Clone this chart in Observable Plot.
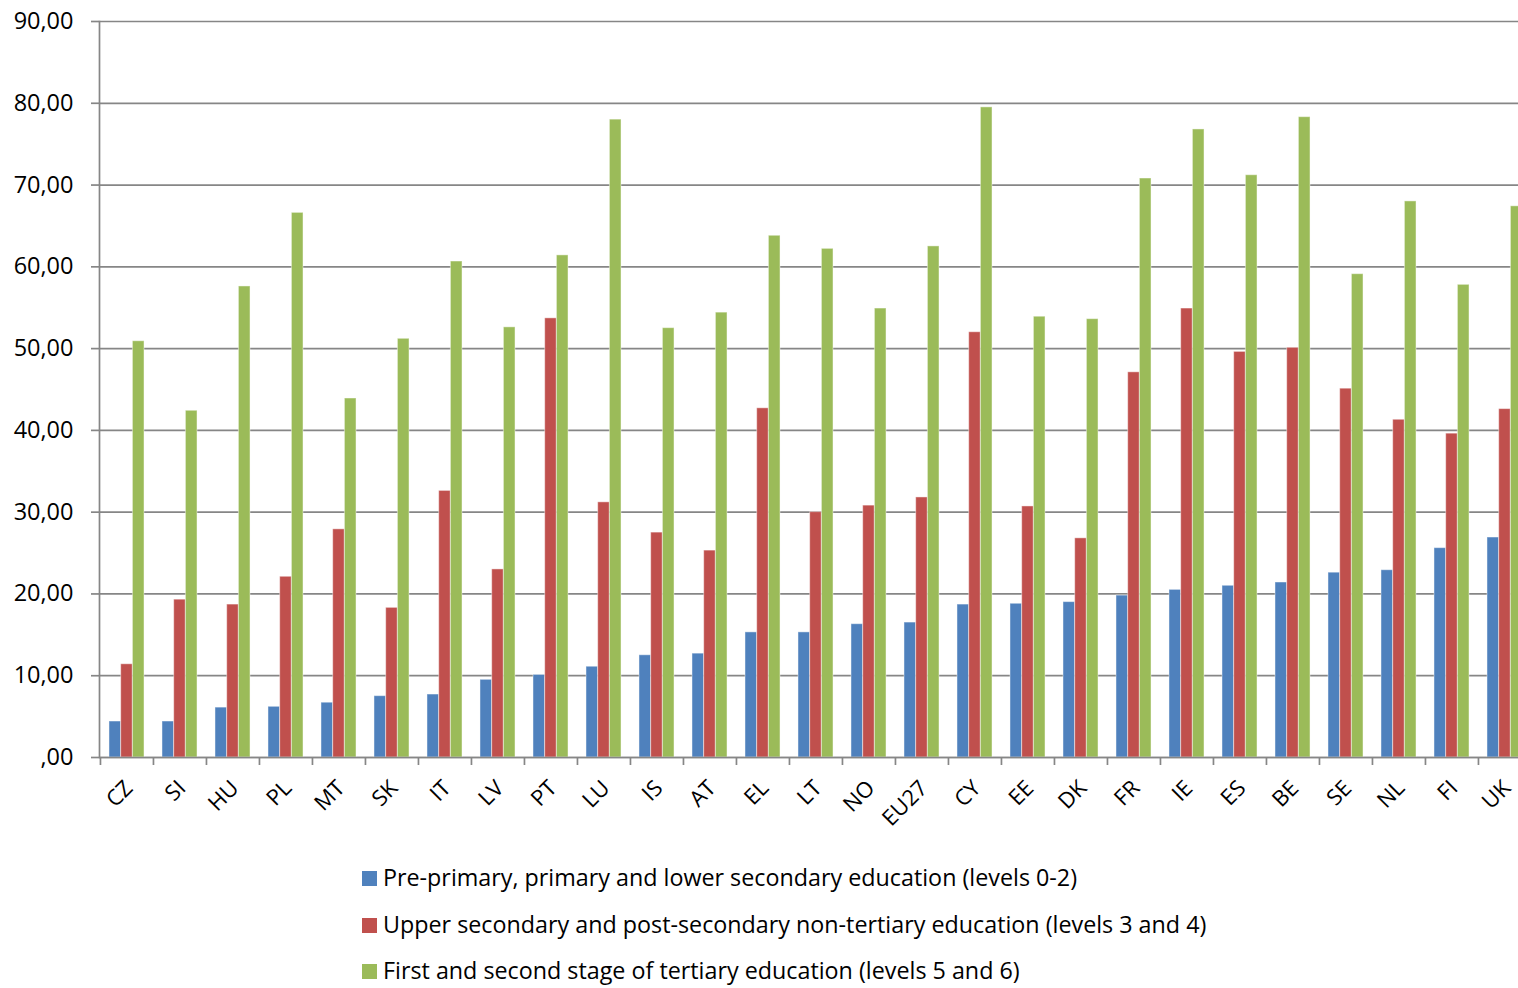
<!DOCTYPE html>
<html>
<head>
<meta charset="utf-8">
<script src="https://cdn.jsdelivr.net/npm/d3@7"></script>
<script src="https://cdn.jsdelivr.net/npm/@observablehq/plot@0.6"></script>
<style>
  html, body { margin: 0; padding: 0; background: #fff; overflow: hidden; }
  #wrap { position: relative; width: 1518px; height: 988px; overflow: hidden; font-family: "Open Sans", sans-serif; }
  .leg { position: absolute; left: 362px; font-size: 23.3px; color: #000; white-space: nowrap; line-height: 24px; }
  .leg span.sw { display: inline-block; width: 15px; height: 15px; margin-right: 6px; vertical-align: baseline; }
</style>
</head>
<body>
<div id="wrap"></div>
<script>
const countries = ["CZ","SI","HU","PL","MT","SK","IT","LV","PT","LU","IS","AT","EL","LT","NO","EU27","CY","EE","DK","FR","IE","ES","BE","SE","NL","FI","UK"];
const lowerEd  = [4.4,4.4,6.1,6.2,6.7,7.5,7.7,9.5,10.1,11.1,12.5,12.7,15.3,15.3,16.3,16.5,18.7,18.8,19.0,19.8,20.5,21.0,21.4,22.6,22.9,25.6,26.9];
const upperSec = [11.4,19.3,18.7,22.1,27.9,18.3,32.6,23.0,53.7,31.2,27.5,25.3,42.7,30.0,30.8,31.8,52.0,30.7,26.8,47.1,54.9,49.6,50.1,45.1,41.3,39.6,42.6];
const tertiary = [50.9,42.4,57.6,66.6,43.9,51.2,60.65,52.6,61.4,78.0,52.5,54.4,63.8,62.2,54.9,62.5,79.5,53.9,53.6,70.8,76.8,71.2,78.3,59.1,68.0,57.8,67.4];
const seriesNames = [
  "Pre-primary, primary and lower secondary education (levels 0-2)",
  "Upper secondary and post-secondary non-tertiary education (levels 3 and 4)",
  "First and second stage of tertiary education (levels 5 and 6)"
];
const seriesColors = ["#4F81BD","#C0504D","#9BBB59"];
const yTicks = [0,10,20,30,40,50,60,70,80,90];

const fmt = v => v === 0 ? ",00" : v.toFixed(2).replace(".", ",");

const W = 1518, H = 840;
const mLeft = 99, mTop = 21, yBase = 757;
const step = 53.08;
const xRange = [mLeft, mLeft + step * countries.length];
const barW = 11.7;
const inset = (step - barW) / 2;
const grey = "#868686";

const allSeries = [lowerEd, upperSec, tertiary];
const barMarks = allSeries.map((vals, s) =>
  Plot.barY(countries.map((c, i) => ({country: c, value: vals[i]})), {
    x: "country", y: "value",
    fill: seriesColors[s],
    stroke: "#ffffff", strokeOpacity: 0.45, strokeWidth: 1,
    insetLeft: inset, insetRight: inset,
    dx: (s - 1) * barW
  })
);

const chart = Plot.plot({
  width: W, height: H,
  marginTop: mTop, marginBottom: H - yBase, marginLeft: mLeft, marginRight: 0,
  style: { fontFamily: "Open Sans, sans-serif", fontSize: "22px", color: "#000", background: "#fff", overflow: "hidden" },
  x: { type: "band", domain: countries, range: xRange, padding: 0, label: null },
  y: { domain: [0, 90], label: null },
  marks: [
    Plot.gridY(yTicks, { stroke: grey, strokeOpacity: 1, strokeWidth: 1.7 }),
    Plot.axisY(yTicks, { tickFormat: fmt, tickSize: 8, tickPadding: 18, stroke: grey, strokeWidth: 1.7, fontSize: 23.5, label: null }),
    Plot.frame({ anchor: "left", stroke: grey, strokeWidth: 1.7 }),
    ...barMarks,
    Plot.ruleY([0], { stroke: grey, strokeWidth: 1.7 }),
    Plot.axisX({ tickSize: 8, tickFormat: () => "", dx: -step / 2, stroke: grey, strokeWidth: 1.7, label: null }),
    Plot.axisX({ tickSize: 0, tickRotate: -45, tickPadding: 27, fontSize: 22, dx: 2, label: null })
  ]
});
const wrap = document.getElementById("wrap");
wrap.appendChild(chart);

const legTops = [865, 912, 958];
seriesNames.forEach((name, i) => {
  const d = document.createElement("div");
  d.className = "leg";
  d.style.top = legTops[i] + "px";
  const sw = document.createElement("span");
  sw.className = "sw";
  sw.style.background = seriesColors[i];
  d.appendChild(sw);
  d.appendChild(document.createTextNode(name));
  wrap.appendChild(d);
});
</script>
</body>
</html>
